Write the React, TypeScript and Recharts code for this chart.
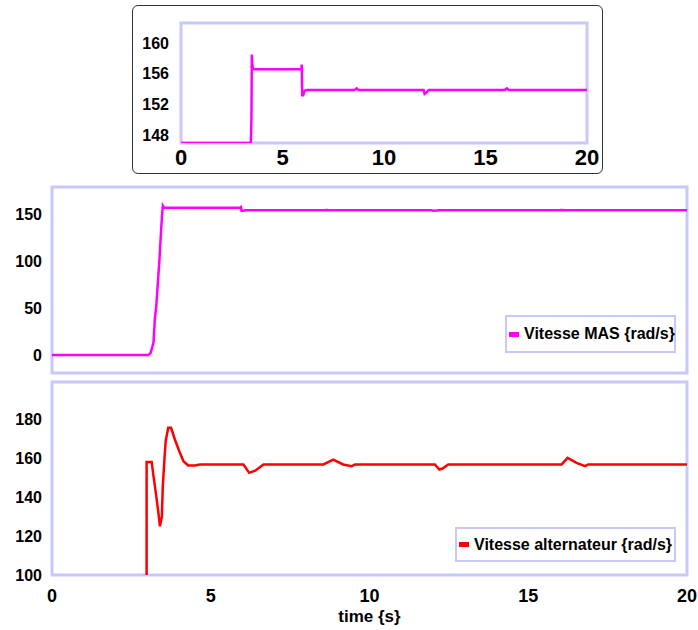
import * as React from 'react';
import { LineChart, Line, XAxis, YAxis, ReferenceArea } from 'recharts';

// time axis shared by all three panels
const timeTicks = [0, 5, 10, 15, 20];

// Vitesse MAS {rad/s}
const masTime = [0, 3.03, 3.1, 3.14, 3.2, 3.24, 3.28, 3.35, 3.38, 3.44, 3.47, 3.49, 3.51, 3.55, 5.93, 5.95, 5.97, 6.02, 6.1, 6.2, 8.55, 8.65, 8.75, 11.95, 12.0, 12.1, 12.2, 15.95, 16.05, 16.15, 20];
const masSpeed = [0, 0, 2, 6, 14, 39, 50, 85, 99, 135, 150, 158.5, 157.3, 156.6, 156.6, 157.2, 153.2, 153.2, 153.8, 153.9, 153.9, 154.1, 153.9, 153.9, 153.4, 153.6, 153.9, 153.9, 154.1, 153.9, 153.9];

// Vitesse alternateur {rad/s}
const altTime = [2.98, 2.98, 3.14, 3.19, 3.28, 3.35, 3.4, 3.46, 3.49, 3.54, 3.58, 3.66, 3.75, 3.87, 4.01, 4.14, 4.29, 4.5, 4.66, 6.03, 6.21, 6.4, 6.66, 8.55, 8.86, 9.17, 9.44, 9.55, 12.06, 12.2, 12.3, 12.48, 16.05, 16.24, 16.52, 16.79, 16.89, 20];
const altSpeed = [0, 158, 158, 151.5, 141, 132, 125, 130, 145.5, 159, 168.6, 175.5, 175.5, 169.5, 163.5, 158.4, 156.2, 156.2, 156.7, 156.7, 152.4, 153.5, 156.7, 156.7, 159.2, 156.7, 155.8, 156.7, 156.7, 154.1, 154.6, 156.7, 156.7, 160.1, 157.5, 155.8, 156.7, 156.7];

const insetTicks = [148, 152, 156, 160];
const masTicks = [0, 50, 100, 150];
const altTicks = [100, 120, 140, 160, 180];

const insetDomain: [number, number] = [147, 162.6];
const masDomain: [number, number] = [-19, 178.5];
const altDomain: [number, number] = [100, 199];

const FONT = '"Liberation Sans", Arial, Helvetica, sans-serif';
const FRAME = '#c8c8fa';

const masData = masTime.map((t, i) => ({ t, v: masSpeed[i] }));
// the inset draws the motor at rest along its lower edge
const insetData = masTime.map((t, i) => ({ t, v: Math.max(masSpeed[i], insetDomain[0]) }));
const altData = altTime.map((t, i) => ({ t, v: altSpeed[i] }));

const labelStyle = (size: number) => ({ fontSize: size, fontFamily: FONT, fontWeight: 700, fill: '#000' });

const LegendBox = ({ color, text, left, top, width, height }: any) => (
  <div
    style={{
      position: 'absolute',
      left,
      top,
      width,
      height,
      boxSizing: 'border-box',
      border: `2px solid ${FRAME}`,
      background: '#fff',
      display: 'flex',
      alignItems: 'center',
      fontFamily: FONT,
      fontWeight: 700,
      fontSize: 16,
      color: '#000',
      whiteSpace: 'nowrap'
    }}
  >
    <span style={{ flexShrink: 0, display: 'inline-block', width: 10, height: 5, background: color, margin: '0 5px 0 2px' }} />
    {text}
  </div>
);

export default function App() {
  return (
    <div style={{ position: 'absolute', left: 0, top: 0, width: 698, height: 630, background: '#fff' }}>
      {/* inset zoom on the MAS speed */}
      <div
        style={{
          position: 'absolute',
          left: 132,
          top: 5,
          width: 471,
          height: 169,
          border: '1px solid #333',
          borderRadius: 6,
          boxSizing: 'border-box'
        }}
      />
      <div style={{ position: 'absolute', left: 133, top: 5 }}>
        <LineChart width={470} height={167} data={insetData} margin={{ top: 18, right: 16, bottom: 0, left: 0 }}>
          <XAxis
            dataKey="t"
            type="number"
            domain={[0, 20]}
            ticks={timeTicks}
            axisLine={false}
            tickLine={false}
            tickMargin={0}
            height={29}
            tick={labelStyle(22)}
          />
          <YAxis
            type="number"
            domain={insetDomain}
            ticks={insetTicks}
            allowDataOverflow
            axisLine={false}
            tickLine={false}
            tickMargin={6}
            width={48}
            tick={labelStyle(16)}
          />
          <ReferenceArea x1={0} x2={20} y1={insetDomain[0]} y2={insetDomain[1]} fill="none" stroke={FRAME} strokeWidth={3} />
          <Line type="linear" dataKey="v" stroke="#ff00ff" strokeWidth={2.5} dot={false} isAnimationActive={false} />
        </LineChart>
      </div>

      {/* Vitesse MAS */}
      <div style={{ position: 'absolute', left: 0, top: 180 }}>
        <LineChart width={698} height={197} data={masData} margin={{ top: 7, right: 11, bottom: 4, left: 0 }}>
          <XAxis dataKey="t" type="number" domain={[0, 20]} ticks={timeTicks} hide />
          <YAxis
            type="number"
            domain={masDomain}
            ticks={masTicks}
            allowDataOverflow
            axisLine={false}
            tickLine={false}
            tickMargin={4}
            width={52}
            tick={labelStyle(16)}
          />
          <ReferenceArea x1={0} x2={20} y1={masDomain[0]} y2={masDomain[1]} fill="none" stroke={FRAME} strokeWidth={3} />
          <Line
            type="linear"
            dataKey="v"
            name="Vitesse MAS {rad/s}"
            stroke="#ff00ff"
            strokeWidth={2.5}
            dot={false}
            isAnimationActive={false}
          />
        </LineChart>
      </div>
      <LegendBox color="#ff00ff" text="Vitesse MAS {rad/s}" left={505} top={315} width={171} height={38} />

      {/* Vitesse alternateur */}
      <div style={{ position: 'absolute', left: 0, top: 377 }}>
        <LineChart width={698} height={253} data={altData} margin={{ top: 5, right: 11, bottom: 0, left: 0 }}>
          <XAxis
            dataKey="t"
            type="number"
            domain={[0, 20]}
            ticks={timeTicks}
            axisLine={false}
            tickLine={false}
            tickMargin={8}
            height={55}
            tick={labelStyle(18)}
            label={{ value: 'time {s}', position: 'insideBottom', offset: 8, ...labelStyle(17) }}
          />
          <YAxis
            type="number"
            domain={altDomain}
            ticks={altTicks}
            allowDataOverflow
            axisLine={false}
            tickLine={false}
            tickMargin={4}
            width={52}
            tick={labelStyle(16)}
          />
          <ReferenceArea x1={0} x2={20} y1={altDomain[0]} y2={altDomain[1]} fill="none" stroke={FRAME} strokeWidth={3} />
          <Line
            type="linear"
            dataKey="v"
            name="Vitesse alternateur {rad/s}"
            stroke="#ff0000"
            strokeWidth={2.5}
            dot={false}
            isAnimationActive={false}
          />
        </LineChart>
      </div>
      <LegendBox color="#ff0000" text="Vitesse alternateur {rad/s}" left={455} top={527} width={221} height={35} />
    </div>
  );
}
